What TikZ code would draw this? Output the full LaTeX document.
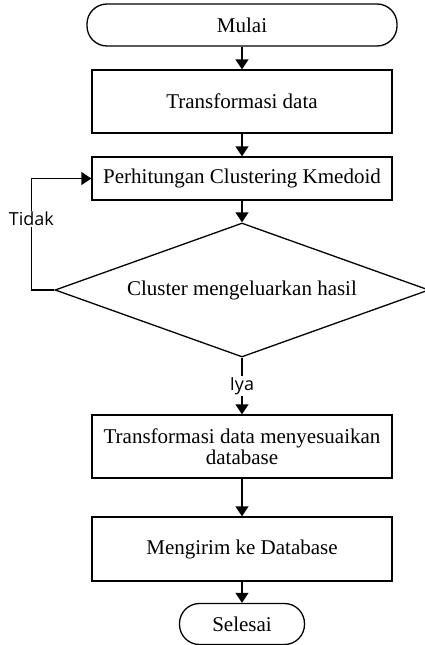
\documentclass[tikz,border=0pt]{standalone}
\usepackage{fontspec}
\setmainfont{Liberation Serif}
\newfontfamily\labelfont{Open Sans}
\usetikzlibrary{shapes.geometric,arrows.meta,positioning}

\begin{document}
\begin{tikzpicture}[x=1pt,y=-1pt,line width=1.3pt,font=\fontsize{21}{21}\selectfont,
    terminal/.style={draw,rounded corners=20pt,minimum height=42pt,inner sep=0pt},
    process/.style={draw,minimum width=300pt,minimum height=63pt,align=center,inner sep=0pt},
    decision/.style={draw,diamond,aspect=2.8,minimum width=374pt,minimum height=134pt,inner sep=0pt},
    flow/.style={-{Triangle[length=10pt,width=13pt]}},
    note/.style={font=\labelfont\fontsize{18}{20}\selectfont,fill=white,inner sep=1pt}]
    \useasboundingbox (0,0) rectangle (425,645);

    \node[terminal,minimum width=310pt] (mulai) at (242,25) {Mulai};
    \node[process] (transform) at (242,101.5) {Transformasi data};
    \node[process,minimum height=43pt] (hitung) at (242,178.5) {Perhitungan Clustering Kmedoid};
    \node[decision] (cek) at (242,290) {Cluster mengeluarkan hasil};
    \node[process] (sesuai) at (242,446.5) {Transformasi data menyesuaikan\\database};
    \node[process,minimum height=64pt] (kirim) at (242,549) {Mengirim ke Database};
    \node[terminal,minimum width=125pt,minimum height=41pt] (selesai) at (242,624) {Selesai};

    \draw[flow] (mulai) -- (transform);
    \draw[flow] (transform) -- (hitung);
    \draw[flow] (hitung) -- (cek);
    \draw[flow] (cek) -- node[note] {Iya} (sesuai);
    \draw[flow] (sesuai) -- (kirim);
    \draw[flow] (kirim) -- (selesai);
    \draw[flow] (cek.west) -- ++(-23,0) |- node[note,pos=0.32] {Tidak} (hitung.west);
\end{tikzpicture}
\end{document}
